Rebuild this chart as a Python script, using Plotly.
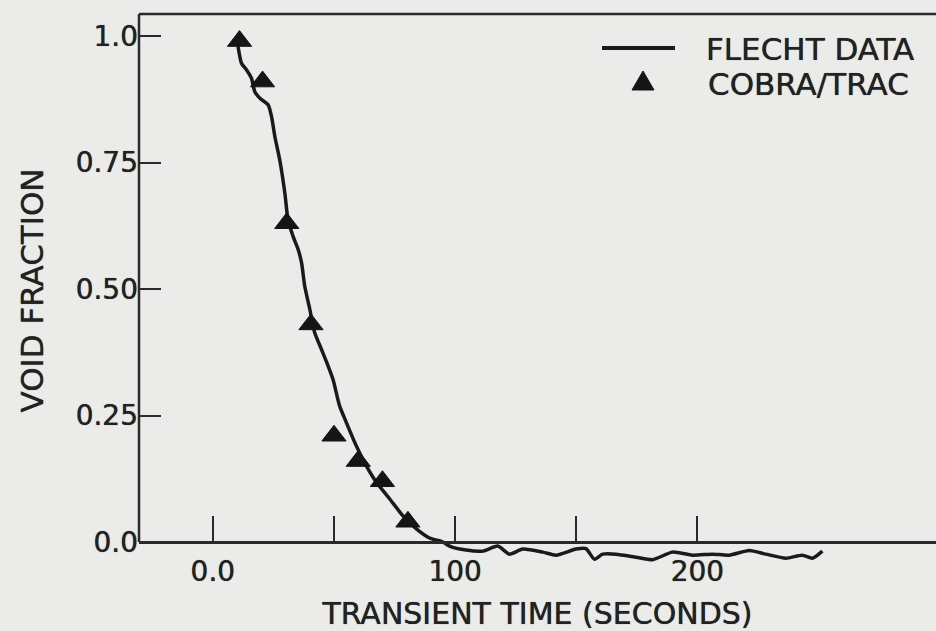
import plotly.graph_objects as go

# ---- data ----
flecht_t = [10.2, 11.8, 13.9, 15.9, 17.3, 19.4, 22.8, 24.2, 25.6, 27.6, 29.7, 31.0,
            33.1, 35.2, 36.6, 37.9, 40.0, 42.0, 44.8, 47.0, 49.6, 52.3, 55.1, 59.2,
            63.4, 67.5, 73.0, 78.4, 84.0, 89.4, 94.9, 97.7, 104.6, 111.4, 117.6,
            122.4, 127.9, 136.2, 141.7, 149.9, 154.0, 157.5, 160.9, 166.4, 174.7,
            181.5, 189.7, 198.0, 206.2, 213.1, 221.4, 228.2, 236.5, 243.3, 247.5, 251.6]
flecht_v = [0.985, 0.946, 0.933, 0.917, 0.890, 0.877, 0.864, 0.841, 0.801, 0.755, 0.690, 0.637,
            0.604, 0.578, 0.552, 0.506, 0.460, 0.414, 0.381, 0.355, 0.321, 0.269, 0.236, 0.190,
            0.150, 0.118, 0.085, 0.052, 0.026, 0.008, 0.000, -0.008, -0.016, -0.018, -0.008,
            -0.024, -0.014, -0.020, -0.026, -0.014, -0.013, -0.034, -0.024, -0.024, -0.030,
            -0.035, -0.020, -0.026, -0.024, -0.026, -0.017, -0.024, -0.032, -0.026, -0.032, -0.018]

cobra_t = [11, 20.5, 30.5, 40.5, 50, 60, 70, 80.5]
cobra_v = [0.99, 0.91, 0.63, 0.43, 0.21, 0.16, 0.12, 0.04]

x_tickvals = [0, 50, 100, 150, 200]
x_ticktext = ["0.0", "", "100", "", "200"]
y_tickvals = [0, 0.25, 0.5, 0.75, 1.0]
y_ticktext = ["0.0", "0.25", "0.50", "0.75", "1.0"]

# ---- layout geometry ----
W, H = 936, 631
ML, MR, MT, MB = 139, 0, 14, 64
PW, PH = W - ML - MR, H - MT - MB
XR = [-30.5, 298.5]
YR = [-0.0494, 1.0435]
ZERO_POS = (0 - YR[0]) / (YR[1] - YR[0])

FONT = "DejaVu Sans"
TXT = "#222222"
LINE = "#2a2a2a"
BG = "#ebebe9"
SHADOW = "0 0 0.7px #222222"


def px_to_paper(px, py):
    return (px - ML) / PW, (MT + PH - py) / PH


fig = go.Figure()
fig.add_trace(go.Scatter(x=flecht_t, y=flecht_v, mode="lines", name="FLECHT DATA",
                         line=dict(color="#1a1a1a", width=3.5, shape="spline", smoothing=0.6),
                         showlegend=False))
fig.add_trace(go.Scatter(x=cobra_t, y=cobra_v, mode="markers", name="COBRA/TRAC",
                         marker=dict(symbol="triangle-up", size=21, color="#151515",
                                     line=dict(color="#151515", width=1)),
                         showlegend=False))

# custom legend
lx0, ly0 = px_to_paper(602, 48)
lx1, _ = px_to_paper(675, 48)
tx, ty = px_to_paper(643, 82)
sx = 11 / PW
sy_top = 11 / PH
sy_bot = 8 / PH
shapes = [
    dict(type="line", xref="paper", yref="paper", x0=lx0, x1=lx1, y0=ly0, y1=ly0,
         line=dict(color="#1a1a1a", width=4)),
    dict(type="path", xref="paper", yref="paper",
         path=f"M {tx - sx} {ty - sy_bot} L {tx + sx} {ty - sy_bot} L {tx} {ty + sy_top} Z",
         fillcolor="#151515", line=dict(color="#151515", width=1)),
    # top frame line
    dict(type="line", xref="paper", yref="paper", x0=0, x1=1, y0=1, y1=1,
         line=dict(color=LINE, width=2.5)),
    # left frame line (from zero up)
    dict(type="line", xref="paper", yref="y", x0=0, x1=0, y0=0, y1=YR[1],
         line=dict(color=LINE, width=2.5)),
]
ax_, ay_ = px_to_paper(704, 49)
bx_, by_ = px_to_paper(706, 84)
legfont = dict(family=FONT, size=31, color=TXT, shadow=SHADOW)
annotations = [
    dict(text="FLECHT DATA", xref="paper", yref="paper", x=ax_, y=ay_, xanchor="left",
         yanchor="middle", showarrow=False, font=legfont),
    dict(text="COBRA/TRAC", xref="paper", yref="paper", x=bx_, y=by_, xanchor="left",
         yanchor="middle", showarrow=False, font=legfont),
]

tickfont = dict(family=FONT, size=28, color=TXT, shadow=SHADOW)
fig.update_layout(
    width=W, height=H,
    margin=dict(l=ML, r=MR, t=MT, b=MB, pad=0),
    paper_bgcolor=BG, plot_bgcolor=BG,
    shapes=shapes, annotations=annotations,
    showlegend=False,
    xaxis=dict(range=XR, anchor="free", position=ZERO_POS,
               showline=True, linecolor=LINE, linewidth=2.5,
               showgrid=False, zeroline=False,
               ticks="inside", ticklen=25, tickwidth=2, tickcolor=LINE,
               tickvals=x_tickvals, ticktext=x_ticktext,
               ticklabelstandoff=4,
               tickfont=tickfont,
               title=dict(text="TRANSIENT TIME (SECONDS)", standoff=18,
                          font=dict(family=FONT, size=30, color=TXT, shadow=SHADOW))),
    yaxis=dict(range=YR, showline=False, showgrid=False, zeroline=False,
               ticks="inside", ticklen=22, tickwidth=2, tickcolor=LINE,
               tickvals=y_tickvals, ticktext=y_ticktext,
               tickfont=tickfont,
               title=dict(text="VOID FRACTION", standoff=22,
                          font=dict(family=FONT, size=31, color=TXT, shadow=SHADOW))),
)

fig.write_html("out.html")
